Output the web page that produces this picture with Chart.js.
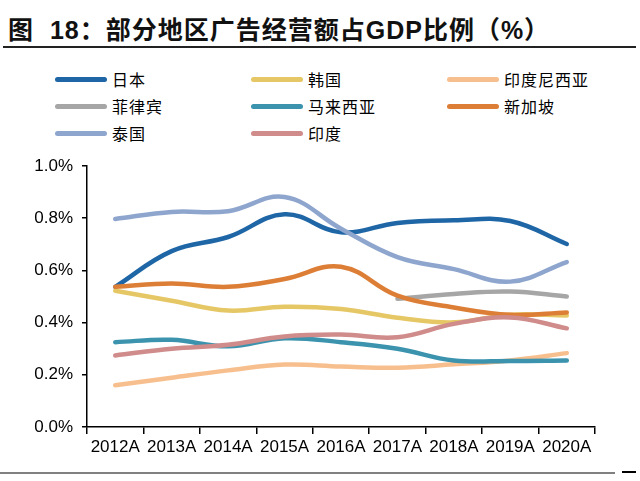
<!DOCTYPE html>
<html>
<head>
<meta charset="utf-8">
<script src="https://cdn.jsdelivr.net/npm/chart.js@4/dist/chart.umd.min.js"></script>
<style>
  body { margin: 0; width: 640px; height: 481px; background: #fff; position: relative; overflow: hidden; }
  #titulo { position: absolute; left: 8px; top: 10px; line-height: 32px; font: bold 25px "Liberation Sans", "Noto Sans CJK SC", sans-serif; letter-spacing: 1px; color: #111; white-space: nowrap; }
  .linea { position: absolute; }
  #leyenda .item { position: absolute; height: 20px; font: 16px "Noto Sans CJK SC", sans-serif; letter-spacing: 1px; color: #000; white-space: nowrap; }
  #leyenda .marca { position: absolute; left: 0; top: 7px; width: 52px; height: 5px; border-radius: 3px; }
  #leyenda .texto { position: absolute; left: 57px; top: -3px; line-height: 24px; }
  #grafico { position: absolute; left: 0; top: 140px; }
</style>
</head>
<body>
<div id="titulo">图&nbsp;&nbsp;18：部分地区广告经营额占GDP比例（%）</div>
<div class="linea" style="left:3px; top:46px; width:633px; height:2px; background:#222;"></div>
<div id="leyenda"></div>
<canvas id="grafico" width="640" height="341"></canvas>
<div class="linea" style="left:0; top:472px; width:615px; height:2px; background:#808080;"></div>
<div class="linea" style="left:622px; top:471px; width:14px; height:1.5px; background:#000;"></div>
<script>
// Categorías y valores (% del PIB)
const anios = ['2012A', '2013A', '2014A', '2015A', '2016A', '2017A', '2018A', '2019A', '2020A'];
const nombres = ['日本', '韩国', '印度尼西亚', '菲律宾', '马来西亚', '新加坡', '泰国', '印度'];
const colores = ['#1f66a6', '#e6c766', '#f8bf8e', '#a6a6a6', '#3b93ae', '#dd7e36', '#8ea6ce', '#d08b8b'];

const japon = [0.537, 0.674, 0.728, 0.815, 0.746, 0.782, 0.792, 0.789, 0.701];
const corea = [0.522, 0.484, 0.446, 0.461, 0.452, 0.419, 0.401, 0.430, 0.427];
const indonesia = [0.160, 0.189, 0.217, 0.239, 0.232, 0.227, 0.240, 0.255, 0.283];
const filipinas = [null, null, null, null, null, 0.491, 0.510, 0.519, 0.500];
const malasia = [0.325, 0.334, 0.309, 0.340, 0.325, 0.300, 0.255, 0.253, 0.255];
const singapur = [0.537, 0.550, 0.537, 0.567, 0.614, 0.503, 0.458, 0.430, 0.439];
const tailandia = [0.797, 0.824, 0.827, 0.881, 0.760, 0.651, 0.605, 0.557, 0.632];
const india = [0.274, 0.300, 0.315, 0.347, 0.354, 0.344, 0.395, 0.420, 0.378];

const ticksY = [0, 0.2, 0.4, 0.6, 0.8, 1.0];

const series = [japon, corea, indonesia, filipinas, malasia, singapur, tailandia, india];

// Leyenda en tres columnas
const leyenda = document.getElementById('leyenda');
nombres.forEach(function(nombre, i) {
    const item = document.createElement('div');
    item.className = 'item';
    item.style.left = (55 + (i % 3) * 196) + 'px';
    item.style.top = (70 + Math.floor(i / 3) * 27) + 'px';
    item.innerHTML = '<div class="marca" style="background:' + colores[i] + '"></div><div class="texto">' + nombre + '</div>';
    leyenda.appendChild(item);
});

const datos = {
    labels: anios,
    datasets: series.map(function(valores, i) {
        return {
            label: nombres[i],
            data: valores,
            borderColor: colores[i],
            backgroundColor: colores[i],
            borderWidth: 4.5,
            borderCapStyle: 'round',
            borderJoinStyle: 'round',
            tension: 0.4,
            pointRadius: 0,
            fill: false,
            order: -i
        };
    })
};

const config = {
    type: 'line',
    data: datos,
    options: {
        responsive: false,
        animation: false,
        layout: { padding: { top: 26, right: 45, left: 0, bottom: 0 } },
        plugins: { legend: { display: false }, tooltip: { enabled: false } },
        scales: {
            x: {
                offset: true,
                grid: { display: true, offset: true, drawOnChartArea: false, drawTicks: true, tickLength: 7, color: '#000', lineWidth: 1.5 },
                border: { display: true, color: '#000', width: 1.5 },
                ticks: { color: '#000', font: { family: 'Liberation Sans', size: 17 }, padding: 3, maxRotation: 0, autoSkip: false },
                afterFit: function(escala) { escala.height = 54; }
            },
            y: {
                min: 0,
                max: 1.0,
                afterBuildTicks: function(escala) { escala.ticks = ticksY.map(function(v) { return { value: v }; }); },
                grid: { display: true, drawOnChartArea: false, drawTicks: true, tickLength: 5, color: '#000', lineWidth: 1.5 },
                border: { display: true, color: '#000', width: 1.5 },
                ticks: {
                    color: '#000',
                    font: { family: 'Liberation Sans', size: 17 },
                    padding: 9,
                    callback: function(v) { return v.toFixed(1) + '%'; }
                },
                afterFit: function(escala) { escala.width = 87; }
            }
        }
    }
};

const ctx = document.getElementById('grafico').getContext('2d');
const grafico = new Chart(ctx, config);
</script>
</body>
</html>
